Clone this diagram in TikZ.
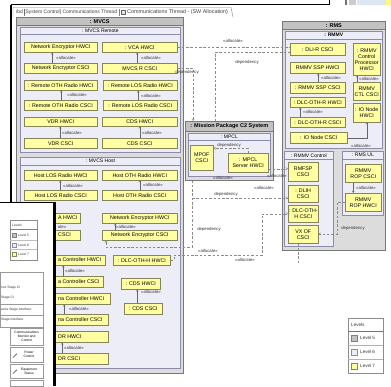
\documentclass[tikz,border=0pt]{standalone}
\usepackage{fontspec}
\setmainfont{Liberation Sans}
\usetikzlibrary{shadows,arrows.meta}
\definecolor{lvfive}{HTML}{DCDCDC}
\definecolor{lvfivehd}{HTML}{C2C2C2}
\definecolor{lvfiveln}{HTML}{777777}
\definecolor{lvsix}{HTML}{EDEDF7}
\definecolor{lvsixln}{HTML}{8C8CAA}
\definecolor{lvseven}{HTML}{FFFFA2}
\definecolor{lvsevenln}{HTML}{85855A}
\definecolor{connln}{HTML}{8A8A8A}
\definecolor{lblue}{HTML}{DCE6F2}
\newcommand\fs[2]{\fontsize{#1}{#2}\selectfont}
\newcommand\bx[7]{\node[#6, minimum width={(#4-#2)*1pt}, minimum height={(#5-#3)*1pt}, anchor=north west] (#1) at (#2,#3) {#7};}
\tikzset{
 shd/.style={general shadow={fill=black!30, shadow xshift=0.8pt, shadow yshift=-0.8pt}},
 bfive/.style={draw=lvfiveln, fill=lvfive, line width=0.5pt, inner sep=0pt, shd},
 hfive/.style={draw=lvfiveln, fill=lvfivehd, line width=0.5pt, inner sep=0pt, font=\fs{5.5}{6}\bfseries},
 bsix/.style={draw=lvsixln, fill=lvsix, line width=0.5pt, inner sep=0pt, shd},
 hsix/.style={draw=lvsixln, fill=lvsix, line width=0.5pt, inner sep=0pt, font=\fs{5}{6}},
 ybox/.style={draw=lvsevenln, fill=lvseven, line width=0.5pt, inner sep=0pt, align=center, font=\fs{5.3}{6}, shd},
 ytext/.style={inner sep=0pt, font=\fs{5.3}{6}},
 lab/.style={inner sep=0.2pt, font=\fs{4.3}{5}, text=black!80},
 dep/.style={draw=connln, line width=0.45pt, dash pattern=on 2.5pt off 1.8pt},
 deparr/.style={dep, -{Straight Barb[length=2pt,width=2.5pt]}},
 alc/.style={draw=black!60, line width=0.4pt, -{Straight Barb[length=1.6pt,width=2pt]}},
 tabt/.style={inner sep=0pt, font=\fs{5}{5.5}, text=black!75},
 legbox/.style={draw=black!45, fill=white, line width=0.5pt, inner sep=0pt, shd},
 legt/.style={inner sep=0pt, font=\fs{4.6}{5}, text=black!80},
 olt/.style={inner sep=0pt, font=\fs{3.3}{4}, text=black!80},
 btn/.style={draw=black!40, fill=white, line width=0.4pt, inner sep=0pt, align=center, font=\fs{3.3}{4}, shd},
 btnt/.style={inner sep=0pt, align=center, font=\fs{3.3}{4}},
 swfive/.style={draw=black!50, fill=lvfivehd, inner sep=0pt},
 swsix/.style={draw=lvsixln, fill=lvsix, inner sep=0pt},
 swseven/.style={draw=lvsevenln, fill=lvseven, inner sep=0pt}
}
\begin{document}
\begin{tikzpicture}[x=1pt,y=-1pt]
\useasboundingbox (0,0) rectangle (391,386);
\fill[white] (0,0) rectangle (391,386);
% window chrome
\draw[black, line width=1.2pt] (11,4.5) -- (329.4,4.5);
\draw[black, line width=1.2pt] (11,4.5) -- (11,202);
\draw[black, line width=1.2pt] (329.4,0) -- (329.4,5.1);
\fill[black!55] (345,0) rectangle (347,5);
\fill[black!20] (349,0) rectangle (356,5);
\fill[lblue] (357,0) rectangle (386,5);
\fill[yellow!50] (386,0) rectangle (391,5);
% tab
\draw[draw=black!50, fill=white, line width=0.4pt] (13,17) -- (13,7.5) -- (231,7.5) -- (233,17);
\draw[black!50, line width=0.4pt] (24.5,8.5) -- (24.5,15.5);
\node[tabt, anchor=west] (tab1) at (16,12) {ibd [System Control] Communications Thread};
\draw[black!50, line width=0.4pt] (119,8.5) -- (119,15.5);
\node[draw=black!60, fill=lblue, minimum size=4pt, inner sep=0pt] (tabic) at (123,12) {};
\node[tabt, anchor=west, font=\fs{5.4}{6}] (tab2) at (127,12) {Communications Thread - (SW Allocation)};
% MVCS
\bx{mvcs}{16}{17}{183}{373}{bfive}{}
\bx{mvcsH}{16}{17}{183}{25}{hfive}{: MVCS}
\bx{rem}{20}{27}{180}{152}{bsix}{}
\bx{remH}{20}{27}{180}{34}{hsix}{: MVCS Remote}
\bx{neH}{24}{42}{97}{52}{ybox}{Network Encryptor HWCI}
\bx{vcaH}{102}{42}{177}{52}{ybox}{: VCA HWCI}
\bx{neC}{24}{63}{97}{73}{ybox}{Network Encryptor CSCI}
\bx{mvrC}{102}{63}{177}{73}{ybox}{MVCS R CSCI}
\bx{rothH}{24}{80}{97}{90}{ybox}{: Remote OTH Radio HWCI}
\bx{rlosH}{103}{80}{177}{90}{ybox}{: Remote LOS Radio HWCI}
\bx{rothC}{24}{100}{97}{110}{ybox}{: Remote OTH Radio CSCI}
\bx{rlosC}{103}{100}{177}{110}{ybox}{: Remote LOS Radio CSCI}
\bx{vdrH}{24}{117}{97}{126}{ybox}{VDR HWCI}
\bx{cdsH}{102}{117}{177}{126}{ybox}{CDS HWCI}
\bx{vdrC}{24}{138}{97}{148}{ybox}{VDR CSCI}
\bx{cdsC}{102}{138}{177}{148}{ybox}{CDS CSCI}
\bx{host}{20}{157}{180}{368}{bsix}{}
\bx{hostH}{20}{157}{180}{165}{hsix}{: MVCS Host}
\bx{hlosH}{24}{170}{97}{180}{ybox}{Host LOS Radio HWCI}
\bx{hothH}{102}{170}{177}{180}{ybox}{Host OTH Radio HWCI}
\bx{hlosC}{24}{190}{97}{200}{ybox}{Host LOS Radio CSCI}
\bx{hothC}{102}{190}{177}{200}{ybox}{Host OTH Radio CSCI}
\bx{aH}{40}{213}{80}{223}{ybox}{}
\node[ytext, anchor=west] (aHt) at (58,218) {A HWCI};
\bx{ne2H}{102}{213}{177}{223}{ybox}{Network Encryptor HWCI}
\bx{aC}{40}{230}{80}{240}{ybox}{}
\node[ytext, anchor=west] (aCt) at (58,235) {CSCI};
\bx{ne2C}{102}{230}{177}{240}{ybox}{Network Encryptor CSCI}
\bx{lA}{40}{255}{105}{265}{ybox}{}
\node[ytext, anchor=west] (lAt) at (58,260) {a Controller HWCI};
\bx{dohw}{113}{255}{170}{265}{ybox}{: DLC-OTH-H HWCI}
\bx{lB}{40}{276}{103}{287}{ybox}{}
\node[ytext, anchor=west] (lBt) at (58,281.5) {a Controller CSCI};
\bx{cdsH2}{121}{278}{160}{289}{ybox}{: CDS HWCI}
\bx{lC}{40}{293}{110}{304}{ybox}{}
\node[ytext, anchor=west] (lCt) at (58,298.5) {na Controller HWCI};
\bx{cdsC2}{124}{303}{162}{314}{ybox}{: CDS CSCI}
\bx{lD}{40}{314}{108}{325}{ybox}{}
\node[ytext, anchor=west] (lDt) at (58,319.5) {na Controller CSCI};
\bx{lE}{40}{331}{108}{342}{ybox}{}
\node[ytext, anchor=west] (lEt) at (58,336.5) {DR HWCI};
\bx{lF}{40}{353}{108}{364}{ybox}{}
\node[ytext, anchor=west] (lFt) at (58,358.5) {DR CSCI};
% Mission package
\bx{mp}{185}{121}{273}{180}{bfive}{}
\bx{mpH}{185}{121}{273}{131}{hfive}{: Mission Package C2 System}
\bx{mpcl}{188}{133}{270}{176}{bsix}{}
\bx{mpclH}{188}{133}{270}{140}{hsix}{: MPCL}
\bx{mpof}{190}{145}{213}{170}{ybox}{MPOF\\CSCI}
\bx{srv}{228}{153}{268}{172}{ybox}{: MPCL\\Server HWCI}
% RMS
\bx{rms}{282}{21}{385}{250}{bfive}{}
\bx{rmsH}{282}{21}{385}{29}{hfive}{: RMS}
\bx{rmmv}{285}{31}{382}{148}{bsix}{}
\bx{rmmvH}{285}{31}{382}{39}{hsix}{\bfseries : RMMV}
\bx{dlir}{290}{43}{345}{55}{ybox}{: DLI-R CSCI}
\bx{rcp}{353}{43}{380}{75}{ybox}{: RMMV\\Control\\Processor\\HWCI}
\bx{sspH}{290}{62}{345}{73}{ybox}{RMMV SSP HWCI}
\bx{sspC}{290}{82}{345}{93}{ybox}{: RMMV SSP CSCI}
\bx{ctl}{353}{82}{380}{100}{ybox}{RMMV\\CTL CSCI}
\bx{dorH}{290}{97}{345}{107}{ybox}{: DLC-OTH-R HWCI}
\bx{dorC}{290}{117}{345}{127}{ybox}{: DLC-OTH-R CSCI}
\bx{ioH}{353}{103}{380}{122}{ybox}{: IO Node\\HWCI}
\bx{ioC}{290}{132}{347}{143}{ybox}{: IO Node CSCI}
\bx{rctl}{284}{151}{333}{246}{bsix}{}
\bx{rctlH}{284}{151}{333}{159}{hsix}{: RMMV Control}
\bx{rfsp}{288}{162}{318}{181}{ybox}{RMFSP\\CSCI}
\bx{dlih}{288}{185}{318}{202}{ybox}{: DLIH\\CSCI}
\bx{doh}{288}{205}{318}{222}{ybox}{: DLC-OTH-\\H CSCI}
\bx{vxof}{288}{225}{318}{243}{ybox}{VX OF\\CSCI}
\bx{rul}{342}{151}{383}{215}{bsix}{}
\bx{rulH}{342}{151}{383}{159}{hsix}{: RMS UL}
\bx{ropC}{345}{164}{381}{182}{ybox}{RMMV\\ROP CSCI}
\bx{ropH}{345}{193}{381}{211}{ybox}{RMMV\\ROP HWCI}
% connectors between parts
\draw[dep] (vcaH.east) -- (vcaH.east -| dlir.west);
\node[lab] (lc1) at (233,41) {«allocate»};
\draw[deparr] (mvrC.east) -| ([xshift=8pt]mp.north west);
\node[lab] (lc2) at (187,72) {dependency};
\draw[dep] ([xshift=30pt]mp.north west) |- ([yshift=-3pt]dlir.west);
\node[lab] (lc3) at (247,62) {dependency};
\coordinate (k4) at (106,247);
\draw[deparr] ([xshift=7pt]mp.south west) |- (k4) -- (k4 |- ne2C.south);
\node[lab] (lc4a) at (209,229) {dependency};
\node[lab] (lc4b) at (208,251) {«allocate»};
\coordinate (k5) at (192,198);
\draw[deparr] (k5) -- (k5 -| dlih.west);
\node[lab] (lc5) at (226,194) {dependency};
\node[lab] (lc5b) at (264,188) {«allocate»};
\coordinate (k6) at (174,255);
\coordinate (k7) at (262,255);
\draw[deparr] (dohw.east) -| (k6) -- (k7) |- (doh.west);
\node[lab] (lc6) at (245,260) {«allocate»};
\draw[deparr] ([yshift=-6pt]srv.east) -- ([yshift=-6pt]srv.east -| rfsp.west);
\node[lab] (lc7) at (277,176) {«allocate»};
\node[lab] (lc7b) at (223,178.3) {«allocate»};
\draw[deparr] (srv.north) |- ([yshift=9.5pt]mpof.east);
\node[lab] (lc8) at (229,145) {dependency};
\coordinate (k9) at (337,234);
\draw[deparr] (ropH.west) -| (k9) -- (k9 -| vxof.east);
\node[lab] (lc9) at (353,228) {dependency};
\coordinate (k10) at (298,263);
\draw[dep] (vxof.south -| k10) -- (k10);
% allocate arrows
\draw[alc] ([xshift=-8.5pt]neC.north) -- ([xshift=-8.5pt]neH.south);
\node[lab] (a1) at (66,57.5) {«allocate»};
\draw[alc] ([xshift=-2.5pt]mvrC.north) -- ([xshift=-2.5pt]vcaH.south);
\node[lab] (a2) at (151,57.5) {«allocate»};
\draw[alc] ([xshift=0.5pt]rothC.north) -- ([xshift=0.5pt]rothH.south);
\node[lab] (a3) at (77,95) {«allocate»};
\draw[alc] ([xshift=-2pt]rlosC.north) -- ([xshift=-2pt]rlosH.south);
\node[lab] (a4) at (151,95.5) {«allocate»};
\draw[alc] ([xshift=-0.5pt]vdrC.north) -- ([xshift=-0.5pt]vdrH.south);
\node[lab] (a5) at (72,133) {«allocate»};
\draw[alc] (cdsC.north) -- (cdsH.south);
\node[lab] (a6) at (152,133) {«allocate»};
\draw[alc] ([xshift=-0.5pt]hlosC.north) -- ([xshift=-0.5pt]hlosH.south);
\node[lab] (a7) at (73,186) {«allocate»};
\draw[alc] (hothC.north) -- (hothH.south);
\node[lab] (a8) at (153,185) {«allocate»};
\draw[alc] ([xshift=-24.5pt]ne2C.north) -- ([xshift=-24.5pt]ne2H.south);
\node[lab] (a9) at (126,226.5) {«allocate»};
\node[lab, anchor=west] (a9b) at (57.5,227) {ate»};
\draw[alc] ([xshift=-8.5pt]lB.north) -- ([xshift=-9.5pt]lA.south);
\node[lab] (a10) at (75,271) {«allocate»};
\draw[alc] ([xshift=-10pt]lD.north) -- ([xshift=-11pt]lC.south);
\node[lab] (a11) at (79,309) {«allocate»};
\draw[alc] ([xshift=-12pt]lF.north) -- ([xshift=-12pt]lE.south);
\node[lab] (a12) at (74,348) {«allocate»};
\draw[alc] ([xshift=-6pt]cdsC2.north) -- ([xshift=-3.5pt]cdsH2.south);
\node[lab] (a13) at (151,292) {«allocate»};
\draw[alc] ([xshift=0.5pt]sspC.north) -- ([xshift=0.5pt]sspH.south);
\node[lab] (a14) at (331,78) {«allocate»};
\draw[alc] ([xshift=-17.5pt]dorC.north) -- ([xshift=-17.5pt]dorH.south);
\node[lab] (a15) at (313,112) {«allocate»};
\draw[alc] ([xshift=-9.5pt]ctl.north) -- ([xshift=-9.5pt]rcp.south);
\node[lab] (a16) at (369,78.5) {«allocate»};
\draw[alc] (ioC.east) -| (ioH.south);
\node[lab] (a17) at (361,146) {«allocate»};
\draw[alc] ([xshift=-10pt]ropC.south) -- ([xshift=-10pt]ropH.north);
\node[lab] (a18) at (366,187.5) {«allocate»};
% legend right
\bx{lg}{348}{318}{383}{373}{legbox}{}
\node[legt, anchor=west] (lgT) at (351,325) {Levels};
\draw[black!55, line width=0.8pt] (348,331.5) -- (383,331.5);
\bx{sw5}{351}{335}{357}{341}{swfive}{}
\node[legt, anchor=west] (lg5) at (360,338) {Level 5};
\draw[black!30, line width=0.4pt] (348,345) -- (383,345);
\bx{sw6}{351}{349}{357}{355}{swsix}{}
\node[legt, anchor=west] (lg6) at (360,352) {Level 6};
\draw[black!30, line width=0.4pt] (348,359) -- (383,359);
\bx{sw7}{351}{363}{357}{369}{swseven}{}
\node[legt, anchor=west] (lg7) at (360,366) {Level 7};
% overlay window
\fill[white] (0,202) rectangle (55,386);
\draw[black, line width=0.7pt] (0,202) -- (55,202);
\draw[black, line width=3.5pt] (54.5,202) -- (54.5,386);
\bx{olg}{10}{220}{37}{260}{legbox}{}
\node[olt, anchor=west] (olgT) at (12,225) {Levels};
\draw[black!50, line width=0.5pt] (10,229.5) -- (37,229.5);
\bx{osw5}{12}{233}{16}{237}{swfive}{}
\node[olt, anchor=west] (ol5) at (18,235) {Level 5};
\draw[black!25, line width=0.3pt] (10,240) -- (37,240);
\bx{osw6}{12}{243}{16}{247}{swsix}{}
\node[olt, anchor=west] (ol6) at (18,245) {Level 6};
\draw[black!25, line width=0.3pt] (10,249.5) -- (37,249.5);
\bx{osw7}{12}{252}{16}{256}{swseven}{}
\node[olt, anchor=west] (ol7) at (18,254) {Level 7};
\draw[black!40, line width=0.5pt] (0.3,272) rectangle (43,327);
\node[olt, anchor=west] (p1) at (1,288) {nce Stage CI};
\node[olt, anchor=west] (p2) at (1,298) {Stage CI};
\draw[black!40, line width=0.4pt] (0.3,304) -- (43,304);
\node[olt, anchor=west] (p3) at (1,309.5) {ance Stage interface};
\draw[black!40, line width=0.4pt] (0.3,315) -- (43,315);
\node[olt, anchor=west] (p4) at (1,320) {Stage interface};
\bx{b1}{10}{328}{43}{345}{btn}{Communications\\Monitor and\\Control}
\bx{b2}{10}{347}{43}{362}{btn}{}
\draw[black!75, line width=0.6pt, -{Stealth[length=1.5pt]}] (13,357.5) -- (17,353.5);
\node[btnt] (b2t) at (29,354.5) {Power\\Control};
\bx{b3}{10}{364}{43}{378}{btn}{}
\draw[black!75, line width=0.6pt, -{Stealth[length=1.5pt]}] (13,373.5) -- (17,369.5);
\node[btnt] (b3t) at (29,371) {Equipment\\Status};
\bx{b4}{10}{380}{43}{386}{btn}{}
\end{tikzpicture}
\end{document}
